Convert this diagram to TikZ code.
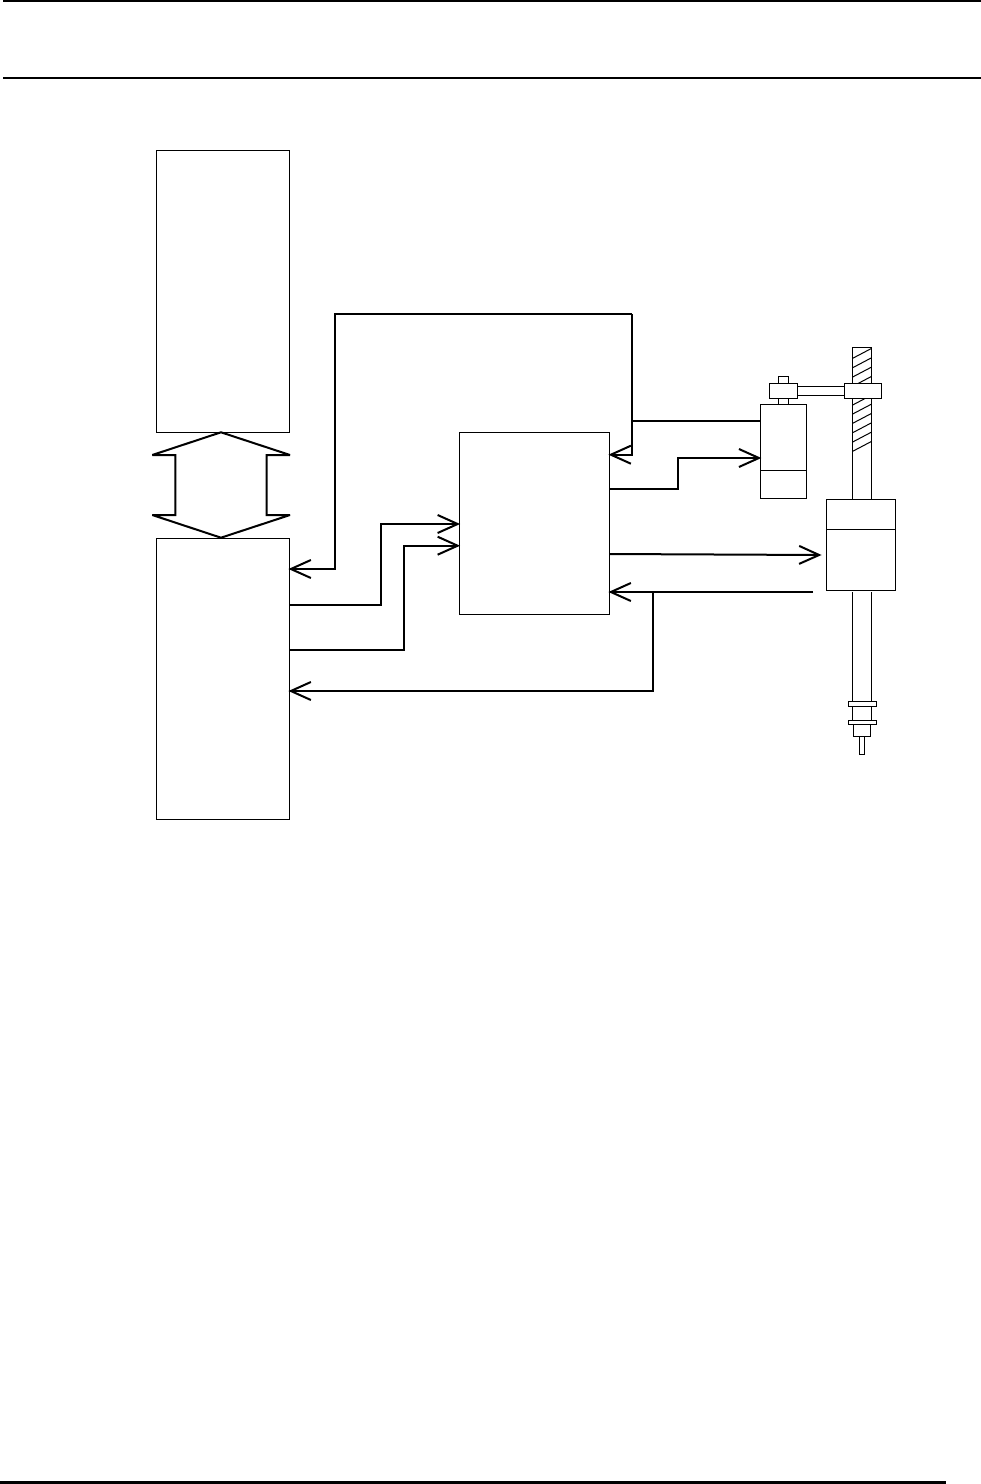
\documentclass[tikz,border=0pt]{standalone}
\usetikzlibrary{arrows.meta,calc}
\tikzset{
  x=0.75pt,y=-0.75pt,
  box/.style={draw,line width=0.75pt,inner sep=0pt,outer sep=0pt,rectangle,anchor=north west},
  thin line/.style={line width=0.75pt},
  wire/.style={line width=1.5pt,line join=miter},
  arrowwire/.style={wire,-{Straight Barb[length=15pt,width=13.5pt,line width=1.5pt]},shorten >=-0.8pt},
  rule/.style={line width=1.7pt},
}
\newcommand{\bx}[5]{\node[box,minimum width={(#4-#2)*0.75pt},minimum height={(#5-#3)*0.75pt}] (#1) at (#2,#3) {};}
\begin{document}
\begin{tikzpicture}
\useasboundingbox (0,0) rectangle (981,1484);
% page rules
\coordinate (t1) at (3,1); \coordinate (t2) at (981,1);
\coordinate (t3) at (3,77.9); \coordinate (t4) at (981,77.9);
\coordinate (f1) at (0,1482.5); \coordinate (f2) at (946,1482.5);
\draw[rule] (t1) -- (t2);
\draw[rule] (t3) -- (t4);
\draw[line width=2.25pt] (f1) -- (f2);
% screw (drawn first so that the nuts cover it)
\draw[thin line] (852.7,347.3) rectangle (871.7,499.3);
\foreach \y in {358.3,367.7,377,386.3,405,414,423.3,432.7,442,451.3}
  \draw[thin line] (852.7,\y+0) -- (871.7,\y-10);
% main blocks
\bx{upper}{156.5}{150.5}{289.5}{432.3}
\bx{lower}{156.5}{538.5}{289.5}{819}
\bx{ctrl}{459}{432.5}{609.5}{614.5}
% small motor
\bx{smot}{760.3}{404.3}{806.3}{498.3}
\coordinate (sd1) at (760.3,470.3); \coordinate (sd2) at (806.3,470.3);
\draw[thin line] (sd1) -- (sd2);
\bx{scap}{778.3}{376.3}{788.3}{383.3}
\bx{sneck}{778.3}{398.3}{788.3}{404.3}
\bx{arm}{797.3}{386.3}{844.3}{395.3}
\node[box,fill=white,minimum width={28*0.75pt},minimum height={15*0.75pt}] (nutl) at (769.3,383.3) {};
\node[box,fill=white,minimum width={37.2*0.75pt},minimum height={15*0.75pt}] (nutr) at (844.3,383.3) {};
% big motor
\bx{bmot}{826.3}{499.3}{895.3}{590}
\coordinate (bd1) at (826.3,529.3); \coordinate (bd2) at (895.3,529.3);
\draw[thin line] (bd1) -- (bd2);
% lower rod and end parts
\coordinate (r1) at (852.3,592); \coordinate (r2) at (852.3,724);
\coordinate (r3) at (871.3,592); \coordinate (r4) at (871.3,724);
\draw[thin line] (r1) -- (r2);
\draw[thin line] (r3) -- (r4);
\node[box,fill=white,minimum width={28.3*0.75pt},minimum height={5.2*0.75pt}] (col1) at (848.3,701.5) {};
\node[box,fill=white,minimum width={28.3*0.75pt},minimum height={4.4*0.75pt}] (col2) at (848.3,720.3) {};
\bx{stub}{853.3}{724.7}{870.6}{736.7}
\bx{pin}{859.3}{736.7}{864.6}{754.7}
% double hollow arrow
\coordinate (da1) at (221,432.3); \coordinate (da2) at (290,455); \coordinate (da3) at (266.7,455);
\coordinate (da4) at (266.7,515); \coordinate (da5) at (290,515); \coordinate (da6) at (221,537.7);
\coordinate (da7) at (152.3,515); \coordinate (da8) at (175.3,515); \coordinate (da9) at (175.3,455);
\coordinate (da10) at (152.3,455);
\draw[wire,line join=miter,miter limit=2] (da1) -- (da2) -- (da3) -- (da4) -- (da5) -- (da6) -- (da7) -- (da8) -- (da9) -- (da10) -- cycle;
% connectors
\coordinate (j1) at (632,421);
\coordinate (in1) at (ctrl.east |- 0,454.7);
\coordinate (fb) at (lower.east |- 0,569);
\draw[wire] (smot.west |- j1) -- (j1);
\draw[arrowwire] (632,314) -- (j1) |- (in1);
\draw[arrowwire] (632,314) -- (335,314) |- (fb);
\coordinate (o2) at (ctrl.east |- 0,489);
\coordinate (i2) at (smot.west |- 0,458);
\draw[arrowwire] (o2) -- (678,489) |- (i2);
\coordinate (l1) at (lower.east |- 0,605);
\coordinate (c1) at (ctrl.west |- 0,524);
\draw[arrowwire] (l1) -- (380.7,605) |- (c1);
\coordinate (l2) at (lower.east |- 0,650);
\coordinate (c2) at (ctrl.west |- 0,545.7);
\draw[arrowwire] (l2) -- (404,650) |- (c2);
\coordinate (o3) at (ctrl.east |- 0,554);
\coordinate (i3) at (820.5,555);
\draw[arrowwire] (o3) -- (i3);
\coordinate (enc) at (813,592);
\coordinate (i4) at (ctrl.east |- enc);
\coordinate (j2) at (653,592);
\draw[arrowwire] (enc) -- (i4);
\coordinate (l3) at (lower.east |- 0,691);
\draw[arrowwire] (j2) |- (l3);
\end{tikzpicture}
\end{document}
